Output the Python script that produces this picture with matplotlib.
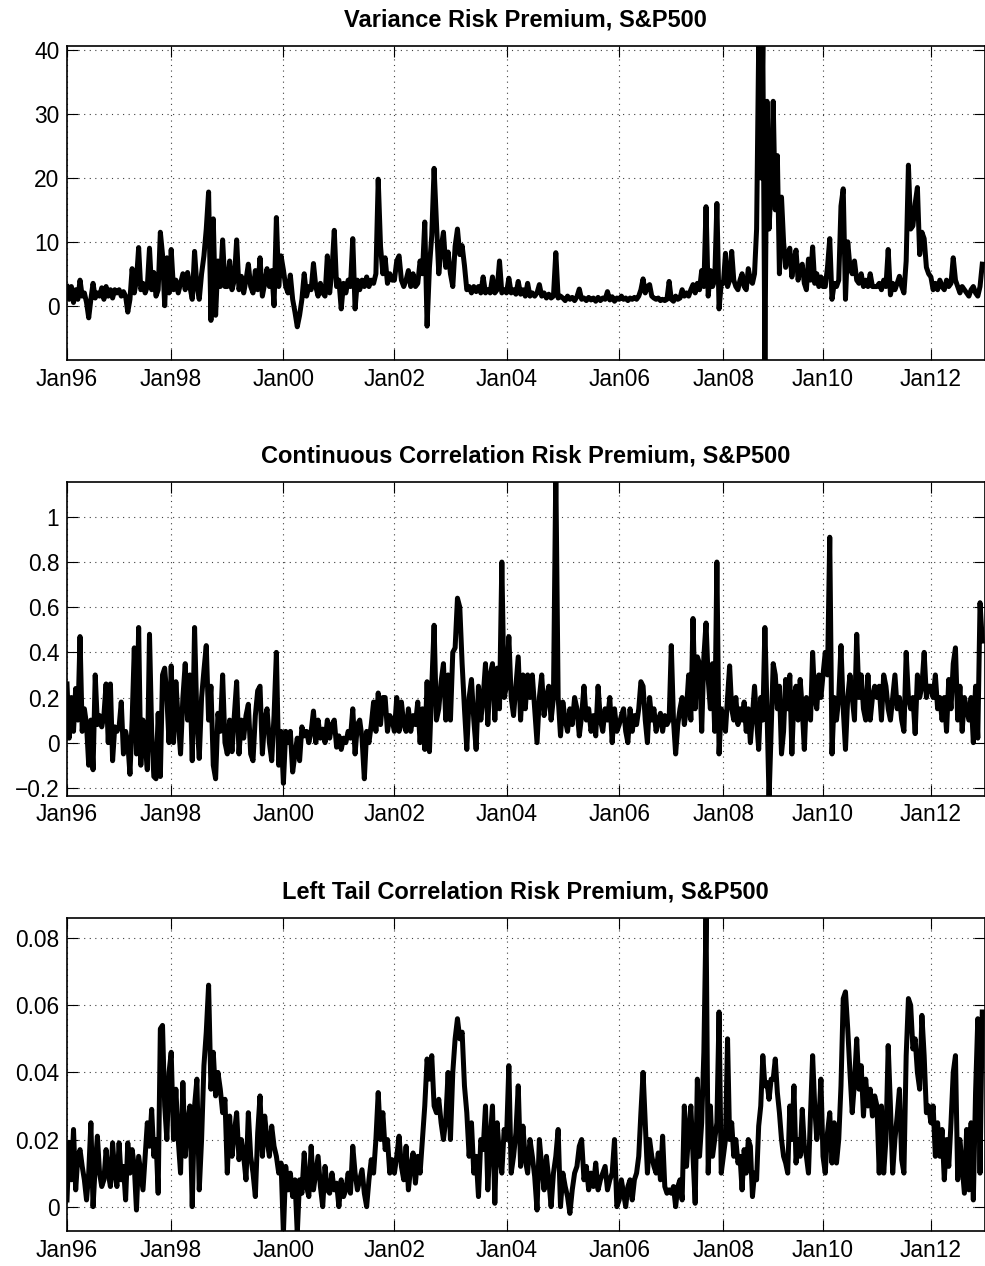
"""Variance / correlation risk premium panels for the S&P500, 1996-2012."""

import matplotlib
matplotlib.use("Agg")
import matplotlib.pyplot as plt
import numpy as np

plt.rcParams["font.family"] = ["Liberation Sans", "DejaVu Sans"]

YEARS = list(range(1996, 2013))
TICK_YEARS = [1996, 1998, 2000, 2002, 2004, 2006, 2008, 2010, 2012]
TICK_LABELS = ["Jan96", "Jan98", "Jan00", "Jan02", "Jan04", "Jan06", "Jan08", "Jan10", "Jan12"]

# horizontal position of each January on the original (trading-day) axis
AXIS_YEARS = [1996, 1998, 2000, 2002, 2004, 2006, 2008, 2010, 2012, 2013]
AXIS_POS = [0, 104.2, 216.4, 327.4, 439.5, 552.2, 656.4, 756.0, 863.9, 917.5]

# semi-monthly readings, one row per year
vrp = [
    [3, 1, 3, 0.5, 2.5, 1, 4, 1.5, 2, 0.5, -1.9, 1, 3.5, 1.2, 2, 1.5, 2.8, 1, 3, 1.5, 2.5, 1.2, 2.5, 2],
    [2.5, 1.5, 2.2, 1.5, -1, 1, 5.8, 2, 4, 9.1, 2.5, 3.5, 2, 3, 9, 2.5, 5.2, 1.5, 2.5, 11.5, 8, 0, 7.5, 2],
    [8.8, 2.5, 4, 2, 3.5, 5, 2.5, 5.2, 3, 1, 8.5, 3, 1, 5, 7.8, 12, 17.8, -2.3, 13.6, -1.5, 7, 3, 10.3, 3],
    [3, 7, 2.5, 4, 10.3, 2.5, 4.6, 2, 4, 6.5, 3, 2, 5.5, 2.5, 7.5, 1.5, 3.5, 5.8, 3, 5.5, 0, 13.8, 3, 7.8],
    [5.6, 3, 2, 4.8, 1, -1, -3.3, -1.5, 1, 5, 1.5, 3, 2.5, 6.6, 3, 1.5, 3.5, 2, 1.5, 7.8, 2, 5.5, 11.8, 3],
    [4, -0.5, 3.5, 2, 4, 3, 10.5, -0.5, 4, 2.5, 4, 3, 4.5, 3, 4, 3.5, 5, 19.8, 9.3, 5, 7.5, 3.5, 5, 4],
    [4, 7, 7.8, 4, 3, 4, 5.5, 3, 5, 3, 3.5, 7, 5, 13.1, -3.2, 6, 11, 21.5, 13, 5, 9, 11.5, 6, 8.4],
    [5, 3, 9.3, 12, 8, 9.4, 6.3, 2.5, 3, 2, 3, 2.2, 3, 2, 4.5, 2, 2.5, 2, 4.5, 2, 2.5, 7, 2, 2.5],
    [2, 4.3, 2, 2.5, 1.8, 3.8, 1.8, 2.5, 1.5, 3.5, 1.5, 2, 1.5, 2, 3.3, 1.5, 2, 1.2, 1.8, 1.2, 1.5, 8.3, 1.2, 1.5],
    [1.2, 0.8, 1.5, 1, 1.3, 0.8, 1.4, 2.6, 1, 1.2, 0.8, 1.3, 0.9, 1.2, 0.7, 1.3, 0.8, 1.2, 1, 2.2, 0.9, 1.4, 0.7, 1.2],
    [1, 1.5, 1, 1.2, 0.8, 1.2, 1, 1.3, 1, 1.5, 2.5, 4.2, 2, 3, 3.3, 1.5, 1.2, 1, 1.2, 0.8, 1, 0.8, 1, 3.8],
    [1, 0.7, 1.5, 1, 1.2, 2.5, 1.5, 2, 1.5, 2.5, 3.3, 2, 3.5, 2.5, 5.5, 3, 15.5, 1.5, 5.5, 3, 4, 16, -0.5, 3.5],
    [3.5, 8.2, 3, 4, 8.5, 4, 3, 2.5, 4, 5, 3, 2.5, 5.8, 4, 3.5, 5, 12, 40.7, 20, 40.7, -8.5, 32, 12, 19],
    [32, 15, 23.5, 5, 17, 10, 6, 8, 9, 4.5, 7, 8.7, 4, 6, 6.5, 3.5, 2.5, 7.3, 4, 9.2, 3.5, 5, 3, 4.5],
    [3, 3, 6, 10.5, 1, 3.5, 3, 4, 15.6, 18.3, 1, 10, 6, 5, 7, 4, 3.5, 5, 3, 4, 3, 5, 3, 3],
    [3, 3.5, 2.5, 4, 3, 8.8, 1.7, 3.5, 2.5, 3.5, 4.6, 3, 2, 7, 22, 12, 12.5, 16, 18.5, 8, 11.5, 10.5, 6, 5],
    [4.5, 2.5, 3.5, 2.5, 4, 3, 2.5, 4, 3, 3.5, 7.5, 4, 3, 2, 3, 2.5, 2, 1.5, 2.5, 3, 2, 1.5, 3, 6.5],
]

ccrp = [
    [0.26, 0.02, 0.2, 0.05, 0.24, 0.1, 0.47, 0.05, 0.15, 0.08, -0.1, 0.1, -0.12, 0.3, 0.08, 0.12, 0.07, 0.12, 0.26, 0.0, 0.26, -0.08, 0.07, 0.05],
    [0.07, 0.18, -0.05, 0.05, 0.0, -0.14, 0.1, 0.42, -0.05, 0.51, -0.1, 0.1, 0.0, -0.12, 0.48, 0.05, -0.15, -0.16, 0.13, -0.15, 0.3, 0.33, 0.2, 0.0],
    [0.34, 0.0, 0.27, 0.1, -0.05, 0.2, 0.35, 0.1, 0.3, -0.08, 0.51, 0.1, -0.07, 0.2, 0.32, 0.43, 0.1, 0.25, -0.1, -0.16, 0.13, 0.05, 0.3, 0.0],
    [-0.05, 0.1, -0.04, 0.12, 0.27, -0.05, 0.1, 0.02, 0.12, 0.17, -0.05, -0.08, 0.12, 0.23, 0.25, -0.05, 0.1, 0.15, 0.0, -0.08, 0.12, 0.4, -0.1, 0.05],
    [-0.18, 0.05, 0.0, 0.05, -0.13, -0.05, 0.02, -0.08, 0.07, 0.03, 0.05, 0.0, 0.05, 0.14, 0.0, 0.1, 0.02, 0.06, 0.0, 0.1, 0.02, 0.08, 0.1, -0.02],
    [0.03, -0.03, 0.02, 0.0, 0.05, 0.02, 0.15, -0.05, 0.08, 0.1, 0.02, -0.16, 0.05, 0.0, 0.08, 0.18, 0.05, 0.22, 0.08, 0.2, 0.2, 0.05, 0.12, 0.1],
    [0.05, 0.2, 0.05, 0.18, 0.08, 0.05, 0.15, 0.05, 0.12, 0.08, 0.18, 0.0, 0.15, -0.03, 0.27, -0.04, 0.25, 0.52, 0.1, 0.15, 0.27, 0.35, 0.1, 0.3],
    [0.1, 0.4, 0.42, 0.64, 0.6, 0.35, 0.15, -0.03, 0.2, 0.28, 0.1, -0.03, 0.25, 0.1, 0.2, 0.35, 0.08, 0.3, 0.35, 0.1, 0.33, 0.15, 0.8, 0.2],
    [0.25, 0.47, 0.2, 0.12, 0.25, 0.38, 0.1, 0.3, 0.15, 0.3, 0.2, 0.3, 0.15, 0.0, 0.2, 0.3, 0.12, 0.2, 0.25, 0.1, 0.2, 1.2, 0.2, 0.03],
    [0.18, 0.1, 0.05, 0.15, 0.08, 0.2, 0.15, 0.03, 0.12, 0.25, 0.1, 0.15, 0.05, 0.12, 0.03, 0.25, 0.1, 0.05, 0.15, 0.1, 0.2, 0.0, 0.15, 0.05],
    [0.08, 0.12, 0.15, 0.05, 0.0, 0.15, 0.05, 0.12, 0.08, 0.15, 0.27, 0.25, 0.1, 0.0, 0.2, 0.1, 0.15, 0.05, 0.1, 0.13, 0.05, 0.12, 0.08, 0.1],
    [0.43, 0.1, -0.05, 0.08, 0.15, 0.2, 0.08, 0.15, 0.3, 0.1, 0.55, 0.15, 0.38, 0.35, 0.05, 0.38, 0.53, 0.28, 0.15, 0.35, 0.05, 0.8, -0.05, 0.15],
    [0.12, 0.05, 0.2, 0.34, 0.15, 0.1, 0.2, 0.08, 0.15, 0.1, 0.18, 0.05, 0.15, 0.0, 0.12, 0.25, 0.1, -0.03, 0.2, 0.1, 0.51, 0.15, -0.25, 0.05],
    [0.35, 0.3, 0.15, 0.25, -0.05, 0.05, 0.28, 0.15, 0.3, -0.05, 0.2, 0.25, 0.1, 0.28, 0.15, -0.03, 0.2, 0.15, 0.1, 0.4, 0.2, 0.15, 0.3, 0.2],
    [0.3, 0.4, 0.3, 0.91, -0.05, 0.2, 0.1, 0.2, 0.43, 0.15, -0.03, 0.2, 0.3, 0.2, 0.1, 0.48, 0.2, 0.3, 0.15, 0.1, 0.3, 0.1, 0.2, 0.25],
    [0.2, 0.25, 0.1, 0.3, 0.25, 0.15, 0.1, 0.2, 0.3, 0.15, 0.2, 0.1, 0.05, 0.4, 0.2, 0.15, 0.2, 0.04, 0.3, 0.2, 0.25, 0.4, 0.2, 0.25],
    [0.25, 0.2, 0.3, 0.15, 0.2, 0.1, 0.2, 0.05, 0.28, 0.15, 0.35, 0.42, 0.1, 0.25, 0.05, 0.2, 0.15, 0.1, 0.2, 0.0, 0.25, 0.02, 0.62, 0.45],
]

ltcrp = [
    [0.002, 0.019, 0.008, 0.023, 0.005, 0.015, 0.017, 0.012, 0.008, 0.002, 0.01, 0.025, 0.0, 0.012, 0.021, 0.01, 0.006, 0.008, 0.017, 0.01, 0.006, 0.019, 0.01, 0.006],
    [0.019, 0.008, 0.012, 0.002, 0.019, 0.01, 0.017, 0.012, -0.001, 0.015, 0.01, 0.005, 0.015, 0.025, 0.018, 0.029, 0.015, 0.02, 0.004, 0.053, 0.054, 0.03, 0.02, 0.04],
    [0.046, 0.02, 0.035, 0.02, 0.01, 0.037, 0.015, 0.025, 0.03, 0.0, 0.03, 0.038, 0.005, 0.02, 0.042, 0.052, 0.066, 0.035, 0.046, 0.033, 0.04, 0.035, 0.028, 0.032],
    [0.01, 0.027, 0.015, 0.022, 0.028, 0.014, 0.02, 0.015, 0.008, 0.028, 0.015, 0.01, 0.003, 0.022, 0.033, 0.015, 0.027, 0.02, 0.015, 0.024, 0.018, 0.015, 0.01, 0.013],
    [-0.008, 0.012, 0.005, 0.01, 0.003, 0.008, -0.008, 0.008, 0.004, 0.016, 0.006, 0.003, 0.018, 0.005, 0.01, 0.015, 0.006, 0.0, 0.012, 0.005, 0.004, 0.01, 0.005, 0.007],
    [0.0, 0.008, 0.003, 0.005, 0.01, 0.004, 0.018, 0.01, 0.005, 0.008, 0.011, 0.004, 0.0, 0.008, 0.014, 0.01, 0.02, 0.034, 0.02, 0.028, 0.017, 0.02, 0.01, 0.014],
    [0.01, 0.015, 0.021, 0.012, 0.008, 0.018, 0.005, 0.012, 0.016, 0.007, 0.015, 0.01, 0.02, 0.03, 0.044, 0.038, 0.045, 0.03, 0.028, 0.032, 0.025, 0.02, 0.026, 0.04],
    [0.02, 0.04, 0.05, 0.056, 0.05, 0.052, 0.036, 0.028, 0.015, 0.025, 0.01, 0.015, 0.003, 0.02, 0.017, 0.03, 0.005, 0.02, 0.03, 0.001, 0.025, 0.015, 0.01, 0.023],
    [0.02, 0.042, 0.01, 0.015, 0.022, 0.036, 0.012, 0.024, 0.014, 0.01, 0.02, 0.015, 0.009, -0.001, 0.02, 0.012, 0.005, 0.015, 0.008, 0.0, 0.01, 0.015, 0.023, 0.0],
    [0.01, 0.006, 0.003, -0.002, 0.005, 0.01, 0.012, 0.018, 0.02, 0.008, 0.012, 0.005, 0.01, 0.006, 0.013, 0.005, 0.008, 0.01, 0.012, 0.005, 0.008, 0.01, 0.02, 0.0],
    [0.002, 0.008, 0.004, 0.0, 0.006, 0.008, 0.002, 0.008, 0.01, 0.015, 0.028, 0.04, 0.025, 0.01, 0.02, 0.015, 0.012, 0.01, 0.016, 0.008, 0.021, 0.006, 0.004, 0.005],
    [0.004, 0.006, 0.0, 0.006, 0.008, 0.002, 0.03, 0.012, 0.022, 0.03, 0.015, 0.001, 0.038, 0.015, 0.025, 0.046, 0.086, 0.01, 0.03, 0.015, 0.02, 0.025, 0.058, 0.01],
    [0.015, 0.02, 0.05, 0.02, 0.025, 0.015, 0.02, 0.013, 0.015, 0.005, 0.017, 0.01, 0.02, 0.018, 0.003, 0.01, 0.008, 0.024, 0.03, 0.045, 0.036, 0.037, 0.032, 0.038],
    [0.038, 0.044, 0.034, 0.028, 0.02, 0.015, 0.013, 0.01, 0.03, 0.02, 0.036, 0.013, 0.02, 0.015, 0.029, 0.018, 0.015, 0.01, 0.028, 0.045, 0.03, 0.02, 0.025, 0.038],
    [0.015, 0.01, 0.022, 0.028, 0.013, 0.025, 0.013, 0.02, 0.036, 0.062, 0.064, 0.053, 0.04, 0.028, 0.037, 0.05, 0.035, 0.042, 0.027, 0.038, 0.03, 0.035, 0.027, 0.033],
    [0.03, 0.01, 0.03, 0.01, 0.02, 0.048, 0.03, 0.01, 0.02, 0.027, 0.035, 0.014, 0.01, 0.045, 0.062, 0.06, 0.047, 0.05, 0.04, 0.035, 0.057, 0.045, 0.028, 0.03],
    [0.025, 0.03, 0.015, 0.025, 0.015, 0.023, 0.008, 0.02, 0.012, 0.025, 0.04, 0.045, 0.008, 0.02, 0.012, 0.004, 0.023, 0.005, 0.025, 0.002, 0.034, 0.056, 0.01, 0.058],
]

vrp_yticks = [0, 10, 20, 30, 40]
vrp_ylabels = ["0", "10", "20", "30", "40"]
ccrp_yticks = [-0.2, 0, 0.2, 0.4, 0.6, 0.8, 1.0]
ccrp_ylabels = ["\u22120.2", "0", "0.2", "0.4", "0.6", "0.8", "1"]
ltcrp_yticks = [0, 0.02, 0.04, 0.06, 0.08]
ltcrp_ylabels = ["0", "0.02", "0.04", "0.06", "0.08"]


def to_series(by_year):
    x, y = [], []
    for year, vals in zip(YEARS, by_year):
        n = len(vals)
        x.extend(year + np.arange(n) / n)
        y.extend(vals)
    return np.array(x), np.array(y)


def fwd(x):
    return np.interp(x, AXIS_YEARS, AXIS_POS)


def inv(p):
    return np.interp(p, AXIS_POS, AXIS_YEARS)


def draw_panel(ax, by_year, title, ylim, yticks, ylabels):
    x, y = to_series(by_year)
    ax.plot(x, y, color="black", linewidth=3.6)

    ax.set_xscale("function", functions=(fwd, inv))
    ax.set_xlim(1996, 2013)
    ax.set_xticks(TICK_YEARS)
    ax.set_xticklabels(TICK_LABELS)
    ax.xaxis.set_minor_locator(matplotlib.ticker.NullLocator())
    ax.set_ylim(*ylim)
    ax.set_yticks(yticks)
    ax.set_yticklabels(ylabels)

    ax.set_axisbelow(True)
    ax.grid(True, color="0.25", linestyle=(0, (1, 4)), linewidth=0.8)
    ax.tick_params(direction="in", length=8, width=0.8, top=True, right=True,
                   labelsize=16.4, pad=5.5, colors="black")
    for spine in ax.spines.values():
        spine.set_linewidth(1.2)
    ax.set_title(title, fontsize=17, fontweight="bold", pad=13.5)


fig = plt.figure(figsize=(9.85, 12.66), dpi=100)
left, width = 67 / 985, (984.5 - 67) / 985

ax1 = fig.add_axes([left, 0.71564, width, 0.24826])
draw_panel(ax1, vrp, "Variance Risk Premium, S&P500", (-8.5, 40.7), vrp_yticks, vrp_ylabels)

ax2 = fig.add_axes([left, 0.37148, width, 0.24803])
draw_panel(ax2, ccrp, "Continuous Correlation Risk Premium, S&P500", (-0.235, 1.156), ccrp_yticks, ccrp_ylabels)

ax3 = fig.add_axes([left, 0.02765, width, 0.24747])
draw_panel(ax3, ltcrp, "Left Tail Correlation Risk Premium, S&P500", (-0.00725, 0.0861), ltcrp_yticks, ltcrp_ylabels)

fig.savefig("out.png", dpi=100)
